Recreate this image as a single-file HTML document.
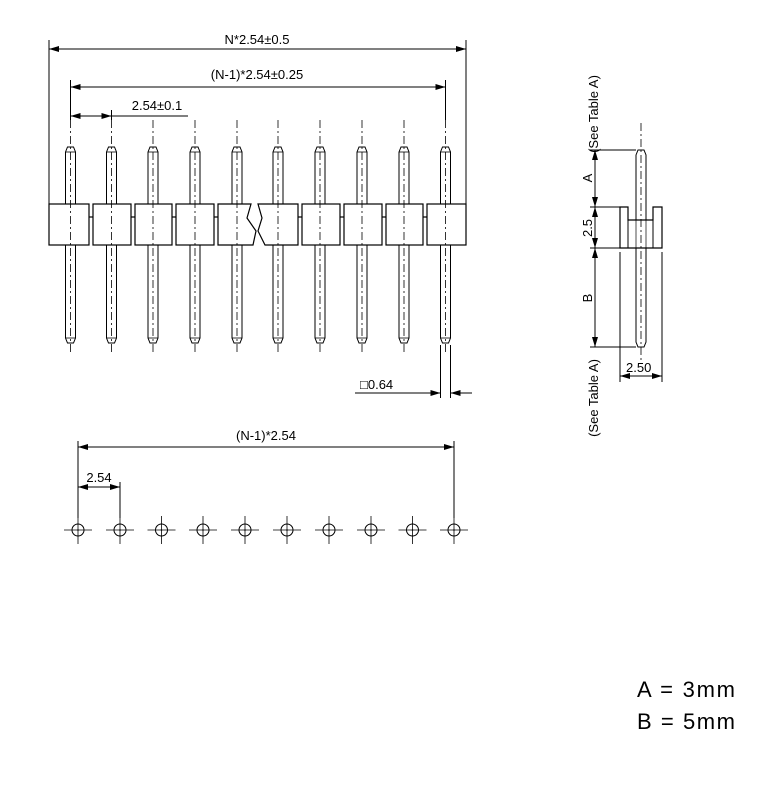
<!DOCTYPE html>
<html><head><meta charset="utf-8"><style>
html,body{margin:0;padding:0;background:#fff;}
svg{display:block;}
text{font-family:"Liberation Sans",Arial,sans-serif;fill:#000;}
</style></head><body>
<svg width="778" height="801" viewBox="0 0 778 801" xmlns="http://www.w3.org/2000/svg">
<defs>
<marker id="a" viewBox="0 0 10 6" refX="10" refY="3" markerWidth="10" markerHeight="6" orient="auto-start-reverse" markerUnits="userSpaceOnUse"><path d="M0,0 L10,3 L0,6 z" fill="#000"/></marker>
<g id="pin">
<path d="M-5,5 L-3,0 L3,0 L5,5 L5,191 L3,196 L-3,196 L-5,191 z" fill="#fff" stroke="#000" stroke-width="1"/>
<line x1="-5" y1="5" x2="5" y2="5" stroke="#000" stroke-width="0.8"/>
<line x1="-5" y1="191" x2="5" y2="191" stroke="#000" stroke-width="0.8"/>
</g>
<line id="cl" x1="0" y1="-27" x2="0" y2="208" stroke="#000" stroke-width="0.8" stroke-dasharray="8,3,2,3"/>
<g id="hole">
<circle cx="0" cy="0" r="6" fill="none" stroke="#000" stroke-width="1"/>
<line x1="-14" y1="0" x2="14" y2="0" stroke="#000" stroke-width="0.8"/>
<line x1="0" y1="-14" x2="0" y2="14" stroke="#000" stroke-width="0.8"/>
<circle cx="0" cy="0" r="0.8" fill="#000"/>
</g>
</defs>
<g stroke="#000" stroke-width="1" fill="none">
<line x1="49" y1="40" x2="49" y2="204"/>
<line x1="466" y1="40" x2="466" y2="204"/>
<line x1="49" y1="49" x2="466" y2="49" marker-start="url(#a)" marker-end="url(#a)"/>
<line x1="70.5" y1="80" x2="70.5" y2="120"/>
<line x1="445.5" y1="80" x2="445.5" y2="120"/>
<line x1="70.5" y1="87" x2="445.5" y2="87" marker-start="url(#a)" marker-end="url(#a)"/>
<line x1="111.5" y1="110" x2="111.5" y2="120"/>
<line x1="70.5" y1="116" x2="111.5" y2="116" marker-start="url(#a)" marker-end="url(#a)"/>
<line x1="111.5" y1="116" x2="188" y2="116"/>
</g>
<text x="257" y="44" font-size="13" text-anchor="middle">N*2.54±0.5</text>
<text x="257" y="79" font-size="13" text-anchor="middle">(N-1)*2.54±0.25</text>
<text x="157" y="110" font-size="13" text-anchor="middle">2.54±0.1</text>
<use href="#pin" x="70.5" y="147"/><use href="#pin" x="111.5" y="147"/><use href="#pin" x="153" y="147"/><use href="#pin" x="195" y="147"/><use href="#pin" x="237" y="147"/><use href="#pin" x="278" y="147"/><use href="#pin" x="320" y="147"/><use href="#pin" x="362" y="147"/><use href="#pin" x="404" y="147"/><use href="#pin" x="445.5" y="147"/>
<g stroke="#000" stroke-width="1.2" fill="#fff">
<rect x="49" y="204" width="40" height="41"/>
<rect x="93" y="204" width="38" height="41"/>
<rect x="135" y="204" width="37" height="41"/>
<rect x="176" y="204" width="38" height="41"/>
<path d="M218,204 L251,204 L247,218 L256,231 L253,245 L218,245 z"/>
<path d="M265,204 L258,204 L262,218 L258,231 L265,245 L298,245 L298,204 z"/>
<rect x="302" y="204" width="38" height="41"/>
<rect x="344" y="204" width="38" height="41"/>
<rect x="386" y="204" width="37" height="41"/>
<rect x="427" y="204" width="39" height="41"/>
<line x1="89" y1="217" x2="93" y2="217"/><line x1="131" y1="217" x2="135" y2="217"/><line x1="172" y1="217" x2="176" y2="217"/><line x1="214" y1="217" x2="218" y2="217"/>
<line x1="298" y1="217" x2="302" y2="217"/><line x1="340" y1="217" x2="344" y2="217"/><line x1="382" y1="217" x2="386" y2="217"/><line x1="423" y1="217" x2="427" y2="217"/>
</g>
<use href="#cl" x="70.5" y="147"/><use href="#cl" x="111.5" y="147"/><use href="#cl" x="153" y="147"/><use href="#cl" x="195" y="147"/><use href="#cl" x="237" y="147"/><use href="#cl" x="278" y="147"/><use href="#cl" x="320" y="147"/><use href="#cl" x="362" y="147"/><use href="#cl" x="404" y="147"/><use href="#cl" x="445.5" y="147"/>
<g stroke="#000" stroke-width="1">
<line x1="440.5" y1="345" x2="440.5" y2="398"/>
<line x1="450.5" y1="345" x2="450.5" y2="398"/>
<line x1="355" y1="393" x2="440.5" y2="393" marker-end="url(#a)"/>
<line x1="472" y1="393" x2="450.5" y2="393" marker-end="url(#a)"/>
</g>
<text x="360" y="389" font-size="13">□0.64</text>
<g stroke="#000" stroke-width="1">
<line x1="78" y1="441" x2="78" y2="518"/>
<line x1="454" y1="441" x2="454" y2="518"/>
<line x1="78" y1="447" x2="454" y2="447" marker-start="url(#a)" marker-end="url(#a)"/>
<line x1="120" y1="482" x2="120" y2="518"/>
<line x1="78" y1="487" x2="120" y2="487" marker-start="url(#a)" marker-end="url(#a)"/>
</g>
<text x="266" y="440" font-size="13" text-anchor="middle">(N-1)*2.54</text>
<text x="99" y="482" font-size="13" text-anchor="middle">2.54</text>
<use href="#hole" x="78" y="530"/><use href="#hole" x="120" y="530"/><use href="#hole" x="161.5" y="530"/><use href="#hole" x="203" y="530"/><use href="#hole" x="245" y="530"/><use href="#hole" x="287" y="530"/><use href="#hole" x="329" y="530"/><use href="#hole" x="371" y="530"/><use href="#hole" x="412.5" y="530"/><use href="#hole" x="454" y="530"/>
<g stroke="#000" stroke-width="1" fill="none">
<path d="M636,155 L638,150 L644,150 L646,155 L646,342 L644,347 L638,347 L636,342 z" fill="#fff"/>
<path d="M620,207 L628,207 L628,220 L653,220 L653,207 L662,207 L662,248 L620,248 z" fill="#fff" stroke-width="1.2"/>
<line x1="628" y1="220" x2="628" y2="248"/><line x1="653" y1="220" x2="653" y2="248"/>
<line x1="636" y1="220" x2="636" y2="248" stroke-width="0.7"/><line x1="646" y1="220" x2="646" y2="248" stroke-width="0.7"/>
<line x1="641" y1="123" x2="641" y2="360" stroke-dasharray="8,3,2,3" stroke-width="0.8"/>
<line x1="590" y1="150" x2="636" y2="150"/>
<line x1="590" y1="207" x2="620" y2="207"/>
<line x1="590" y1="248" x2="620" y2="248"/>
<line x1="590" y1="347" x2="636" y2="347"/>
<line x1="595" y1="150" x2="595" y2="207" marker-start="url(#a)" marker-end="url(#a)"/>
<line x1="595" y1="207" x2="595" y2="248" marker-start="url(#a)" marker-end="url(#a)"/>
<line x1="595" y1="248" x2="595" y2="347" marker-start="url(#a)" marker-end="url(#a)"/>
<line x1="620" y1="252" x2="620" y2="382"/>
<line x1="662" y1="252" x2="662" y2="382"/>
<line x1="620" y1="376" x2="662" y2="376" marker-start="url(#a)" marker-end="url(#a)"/>
</g>
<text transform="translate(592,178) rotate(-90)" font-size="13" text-anchor="middle">A</text>
<text transform="translate(592,228) rotate(-90)" font-size="13" text-anchor="middle">2.5</text>
<text transform="translate(592,298) rotate(-90)" font-size="13" text-anchor="middle">B</text>
<text transform="translate(598,114) rotate(-90)" font-size="13" text-anchor="middle">(See Table A)</text>
<text transform="translate(598,398) rotate(-90)" font-size="13" text-anchor="middle">(See Table A)</text>
<text x="626" y="372" font-size="13">2.50</text>
<text x="637" y="697" font-size="22" textLength="98">A = 3mm</text>
<text x="637" y="729" font-size="22" textLength="98">B = 5mm</text>
</svg>
</body></html>
